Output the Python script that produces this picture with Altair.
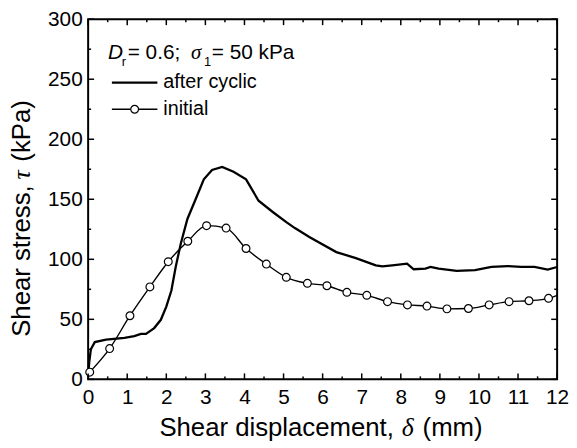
import altair as alt
import pandas as pd

# ---------------- data ----------------
cyc_x = [0.0, 0.03, 0.07, 0.17, 0.46, 0.93, 1.18, 1.35, 1.48, 1.69, 1.86, 2.0, 2.13, 2.24, 2.37,
         2.54, 2.75, 2.96, 3.17, 3.43, 3.72, 4.04, 4.36, 4.74, 5.08, 5.29, 5.67, 6.35, 6.85,
         7.36, 7.53, 7.78, 8.16, 8.33, 8.63, 8.76, 8.97, 9.43, 9.9, 10.32, 10.74, 11.08,
         11.42, 11.76, 12.0]
cyc_y = [3, 15, 25, 31, 33, 34.5, 36, 37.8, 37.8, 42.7, 49.6, 60.6, 74, 93.6, 113,
         133.6, 150, 166.6, 174.4, 177, 173, 166.6, 148.8, 139, 130.8, 126, 118.4, 106, 101,
         95, 94.2, 95, 96.4, 91.7, 92.3, 93.6, 92.3, 90.3, 90.9, 93.6, 94.4, 93.6,
         93.6, 91.5, 93.6]

ini_x = [0.04, 0.55, 1.07, 1.58, 2.05, 2.55, 3.03, 3.53, 4.04, 4.56, 5.07, 5.61, 6.11,
         6.62, 7.13, 7.66, 8.17, 8.67, 9.18, 9.73, 10.26, 10.77, 11.28, 11.78]
ini_y = [6, 25.6, 53, 77, 98, 115, 128, 126, 109, 96, 85, 80, 78,
         72.5, 70, 64.7, 62, 61, 58.7, 59, 62, 64.7, 65.5, 67.5]
ini_end_x = [12.0]
ini_end_y = [70]

x_major = list(range(0, 13))
x_minor = [i + 0.5 for i in range(12)]
y_major = [0, 50, 100, 150, 200, 250, 300]
y_minor = [25, 75, 125, 175, 225, 275]

W, H = 474, 364
FONT = "Liberation Sans"
SERIF = "Liberation Serif"

xs = alt.Scale(domain=[0, 12], nice=False, zero=False)
ys = alt.Scale(domain=[0, 300], nice=False, zero=False)

x_axis = alt.Axis(values=x_major, ticks=False, domain=False, grid=False, title=None,
                  labelFont=FONT, labelFontSize=21, labelColor="black", labelPadding=7,
                  labelFlush=False, labelOverlap=False)
y_axis = alt.Axis(values=y_major, ticks=False, domain=False, grid=False, title=None,
                  labelFont=FONT, labelFontSize=21, labelColor="black", labelPadding=6,
                  labelOverlap=False)


def X():
    return alt.X("x:Q", scale=xs, axis=x_axis)


def Y():
    return alt.Y("y:Q", scale=ys, axis=y_axis)


cyc_df = pd.DataFrame({"x": cyc_x, "y": cyc_y})
ini_df = pd.DataFrame({"x": ini_x, "y": ini_y})
ini_line_df = pd.DataFrame({"x": ini_x + ini_end_x, "y": ini_y + ini_end_y})

cyc_line = alt.Chart(cyc_df).mark_line(color="black", strokeWidth=2.3).encode(x=X(), y=Y())
ini_line = alt.Chart(ini_line_df).mark_line(color="black", strokeWidth=1.4,
                                            interpolate="monotone").encode(x=X(), y=Y())
ini_pts = alt.Chart(ini_df).mark_point(shape="circle", size=62, fill="white", stroke="black",
                                       strokeWidth=1.2, opacity=1,
                                       fillOpacity=1).encode(x=X(), y=Y())


def xticks(vals, length):
    d = pd.DataFrame({"x": vals})
    bottom = alt.Chart(d).mark_rule(color="black", strokeWidth=1.5).encode(
        x=X(), y=alt.value(H), y2=alt.value(H - length))
    top = alt.Chart(d).mark_rule(color="black", strokeWidth=1.5).encode(
        x=X(), y=alt.value(0), y2=alt.value(length))
    return [bottom, top]


def yticks(vals, length):
    d = pd.DataFrame({"y": vals})
    left = alt.Chart(d).mark_rule(color="black", strokeWidth=1.5).encode(
        y=Y(), x=alt.value(0), x2=alt.value(length))
    right = alt.Chart(d).mark_rule(color="black", strokeWidth=1.5).encode(
        y=Y(), x=alt.value(W), x2=alt.value(W - length))
    return [left, right]


ticks = xticks(x_major, 6) + xticks(x_minor, 3) + yticks(y_major, 6) + yticks(y_minor, 3)

one = pd.DataFrame({"a": [0]})


def label(txt, x, y, size=20, font=FONT, style="normal", angle=0, align="left",
          baseline="alphabetic"):
    return alt.Chart(one).mark_text(text=txt, font=font, fontSize=size, fontStyle=style,
                                    angle=angle, align=align, baseline=baseline,
                                    color="black").encode(x=alt.value(x), y=alt.value(y))


# annotation: D_r = 0.6; sigma_1 = 50 kPa
annot = [
    label("D", 20, 40, size=21, style="italic"),
    label("r", 34, 47, size=13),
    label("= 0.6;", 40, 40, size=21),
    label("σ", 104, 40, size=21, font=SERIF, style="italic"),
    label("1", 117, 47, size=13),
    label("= 50 kPa", 125, 40, size=21),
]

# legend
legend = [
    alt.Chart(one).mark_rule(color="black", strokeWidth=2.3).encode(
        x=alt.value(24), x2=alt.value(70), y=alt.value(64)),
    label("after cyclic", 76, 64, size=20, baseline="middle"),
    alt.Chart(one).mark_rule(color="black", strokeWidth=1.4).encode(
        x=alt.value(24), x2=alt.value(70), y=alt.value(91)),
    alt.Chart(one).mark_point(shape="circle", size=62, fill="white", stroke="black",
                              strokeWidth=1.2, opacity=1, fillOpacity=1).encode(
        x=alt.value(47), y=alt.value(91)),
    label("initial", 76, 91, size=20, baseline="middle"),
]

# axis titles
titles = [
    label("Shear displacement,", 72, 421, size=26),
    label("δ", 317, 421, size=26, font=SERIF, style="italic"),
    label("(mm)", 338, 421, size=26),
    label("Shear stress,", -59, 321, size=26, angle=270),
    label("τ", -59, 162, size=26, font=SERIF, style="italic", angle=270),
    label("(kPa)", -59, 144, size=26, angle=270),
]

chart = alt.layer(cyc_line, ini_line, ini_pts, *ticks, *annot, *legend, *titles).properties(
    width=W, height=H,
    padding={"left": 81, "top": 9, "right": 12, "bottom": 60},
    autosize=alt.AutoSizeParams(type="none"),
    background="white",
).configure_view(stroke="black", strokeWidth=2)

chart.save("out.html", embed_options={"renderer": "svg", "actions": False})
